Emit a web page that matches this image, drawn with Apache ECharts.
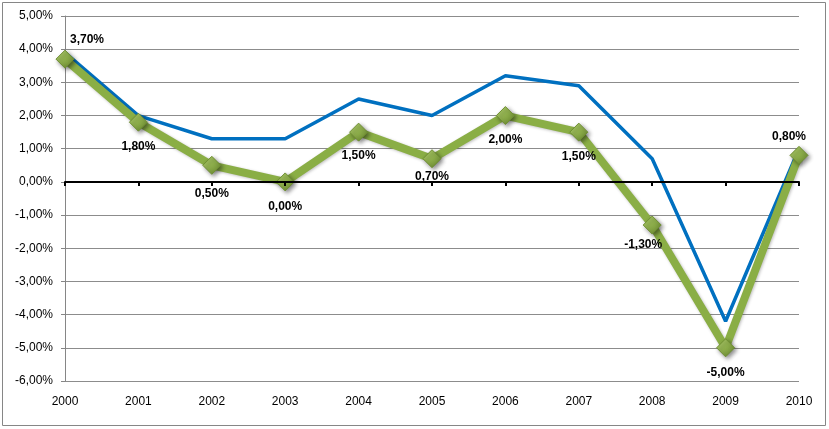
<!DOCTYPE html>
<html>
<head>
<meta charset="utf-8">
<script src="https://cdn.jsdelivr.net/npm/echarts@6/dist/echarts.min.js"></script>
<style>
html,body{margin:0;padding:0;background:#fff;}
#c{width:829px;height:429px;}
</style>
</head>
<body>
<div id="c"></div>
<script>
const years = ['2000','2001','2002','2003','2004','2005','2006','2007','2008','2009','2010'];
const greenValues = [3.7, 1.8, 0.5, 0.0, 1.5, 0.7, 2.0, 1.5, -1.3, -5.0, 0.8];
const blueValues = [3.9, 2.0, 1.3, 1.3, 2.5, 2.0, 3.2, 2.9, 0.7, -4.2, 1.0];
const yMin = -6, yMax = 5, yStep = 1;

const fmt = v => v.toFixed(2).replace('.', ',') + '%';
// label offsets (styling, separate from data)
const labelOffsets = [[22,-19],[0,25],[0,28],[0,25],[0,24],[0,18],[0,24],[0,25],[-9,20],[0,25],[-10,-19]];

const chart = echarts.init(document.getElementById('c'));
const font = 'Liberation Sans, Arial, sans-serif';
chart.setOption({
  backgroundColor: '#fff',
  animation: false,
  graphic: [{
    type: 'rect', silent: true, z: -1,
    shape: {x: 2.5, y: 2.5, width: 823, height: 423},
    style: {fill: 'none', stroke: '#868686', lineWidth: 1}
  }],
  grid: {left: 65, right: 30, top: 16, bottom: 48},
  xAxis: [{
    type: 'category', data: years, boundaryGap: false,
    axisLine: {onZero: true, lineStyle: {color: '#000', width: 2}},
    axisTick: {show: true, inside: false, length: 4, lineStyle: {color: '#000', width: 2}},
    axisLabel: {show: false},
    splitLine: {show: false}, z: 5
  },{
    type: 'category', data: years, boundaryGap: false, position: 'bottom',
    axisLine: {show: false, onZero: false},
    axisTick: {show: false},
    axisLabel: {show: true, color: '#000', fontFamily: font, fontSize: 12, margin: 15},
    splitLine: {show: false}
  }],
  yAxis: {
    type: 'value', min: yMin, max: yMax, interval: yStep,
    axisLine: {show: true, lineStyle: {color: '#868686', width: 1}},
    axisTick: {show: true, length: 4, lineStyle: {color: '#868686'}},
    axisLabel: {color: '#000', fontFamily: font, fontSize: 12, margin: 12, formatter: fmt},
    splitLine: {show: true, lineStyle: {color: '#8c8c8c', width: 1}}
  },
  series: [{
    type: 'line', data: blueValues, xAxisIndex: 0,
    symbol: 'none', z: 3,
    lineStyle: {color: '#0070C0', width: 3.5}
  },{
    type: 'line', xAxisIndex: 0, z: 4,
    data: greenValues.map((v, i) => ({
      value: v,
      label: {offset: labelOffsets[i]}
    })),
    symbol: 'diamond', symbolSize: 18,
    lineStyle: {color: '#8AAE45', width: 8, shadowColor: 'rgba(0,0,0,0.25)', shadowBlur: 3, shadowOffsetX: 1, shadowOffsetY: 1},
    itemStyle: {
      color: new echarts.graphic.LinearGradient(0, 0, 1, 1, [
        {offset: 0, color: '#B2CF72'}, {offset: 0.5, color: '#8FB04C'}, {offset: 1, color: '#5F7D27'}
      ]),
      borderColor: '#6F8F33', borderWidth: 1,
      shadowColor: 'rgba(0,0,0,0.45)', shadowBlur: 4, shadowOffsetX: 2, shadowOffsetY: 2
    },
    label: {
      show: true, position: 'inside', color: '#000', fontWeight: 'bold',
      fontFamily: font, fontSize: 12,
      formatter: p => fmt(p.value)
    }
  }]
});
</script>
</body>
</html>
